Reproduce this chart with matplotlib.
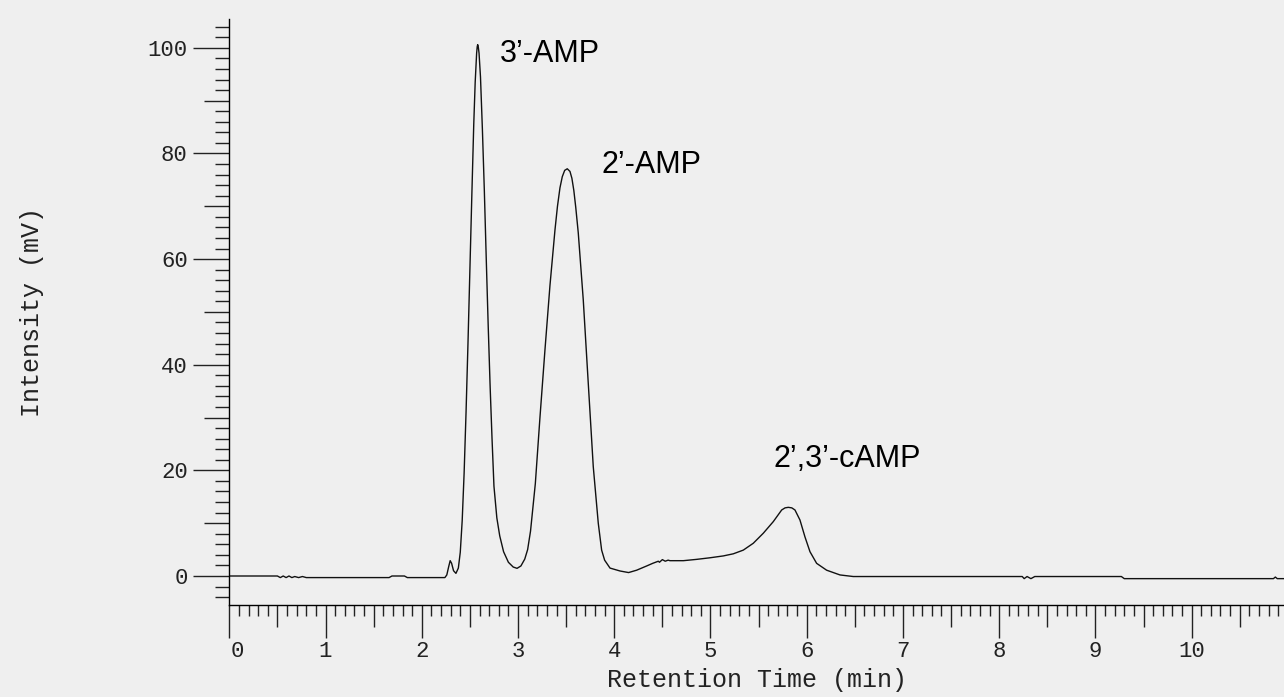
# Cromatograma: 3'-AMP, 2'-AMP y 2',3'-cAMP
import matplotlib.pyplot as plt
import matplotlib.transforms as mtransforms
from matplotlib.ticker import MultipleLocator, FuncFormatter

tiempo = [0.00, 0.50, 0.53, 0.56, 0.59, 0.62, 0.65, 0.68, 0.72, 0.76, 0.80, 0.84,
          1.66, 1.69, 1.82, 1.85, 2.24, 2.26, 2.28, 2.295, 2.31, 2.33, 2.355,
          2.38, 2.40, 2.42, 2.44, 2.46, 2.48, 2.50, 2.52, 2.54, 2.555, 2.57, 2.576,
          2.581, 2.587, 2.595, 2.61, 2.63, 2.65, 2.67, 2.69, 2.71, 2.73, 2.75, 2.78,
          2.81, 2.85, 2.90, 2.95, 2.99, 3.03, 3.07, 3.10, 3.13, 3.18, 3.228, 3.28,
          3.332, 3.384, 3.41, 3.436, 3.46, 3.485, 3.512, 3.54, 3.56, 3.58, 3.60,
          3.626, 3.678, 3.73, 3.782, 3.834, 3.869, 3.90, 3.956, 4.06, 4.149, 4.233,
          4.337, 4.40, 4.458, 4.47, 4.50, 4.53, 4.56, 4.579, 4.65, 4.718, 4.857,
          4.995, 5.133, 5.237, 5.341, 5.445, 5.549, 5.653, 5.74, 5.775, 5.809, 5.845,
          5.878, 5.93, 5.982, 6.034, 6.103, 6.207, 6.346, 6.484, 8.24, 8.26, 8.29,
          8.33, 8.37, 9.27, 9.30, 10.85, 10.87, 10.89, 10.96]
intensidad = [0.0, 0.0, -0.3, 0.0, -0.3, 0.0, -0.3, -0.1, -0.3, -0.1, -0.3, -0.3,
              -0.3, 0.0, 0.0, -0.3, -0.3, 0.2, 1.8, 2.9, 2.4, 1.0, 0.5,
              1.5, 4.5, 10.5, 19.5, 31.0, 44.0, 58.0, 72.0, 85.5, 93.5, 99.0, 100.2,
              100.6, 100.2, 99.0, 94.5, 84.5, 73.0, 60.0, 47.5, 36.0, 26.0, 17.0, 11.0,
              7.6, 4.6, 2.6, 1.7, 1.45, 1.9, 3.2, 5.0, 8.5, 17.5, 30.0, 42.8,
              55.0, 65.5, 70.0, 73.5, 75.6, 76.8, 77.1, 76.6, 75.3, 73.0, 69.8,
              65.0, 52.3, 36.5, 20.7, 10.0, 4.9, 3.0, 1.5, 0.95, 0.65, 1.1,
              1.9, 2.4, 2.8, 2.6, 3.1, 2.8, 3.0, 2.9, 2.9, 2.9, 3.15,
              3.45, 3.8, 4.2, 4.9, 6.2, 8.1, 10.3, 12.5, 12.9, 13.0, 12.9,
              12.5, 10.6, 7.4, 4.6, 2.4, 1.1, 0.2, -0.1, -0.1, -0.5, -0.1,
              -0.5, -0.1, -0.1, -0.5, -0.5, -0.2, -0.5, -0.5]

# etiquetas de picos: texto, tiempo, intensidad (linea base del texto)
picos = ["3\u2019-AMP", "2\u2019-AMP", "2\u2019,3\u2019-cAMP"]
pico_t = [2.81, 3.87, 5.65]
pico_y = [97.3, 76.3, 20.7]

fondo = "#efefef"
mono = "Liberation Mono"

fig = plt.figure(figsize=(12.84, 6.97), dpi=100, facecolor=fondo)
ax = fig.add_axes([0.1786, 0.132, 0.8214, 0.8403])
ax.set_facecolor(fondo)

ax.plot(tiempo, intensidad, color="#111111", linewidth=1.0)

for txt, t, y in zip(picos, pico_t, pico_y):
    ax.text(t, y, txt, fontsize=22, family="Liberation Sans", va="baseline", ha="left")

ax.set_xlim(0, 10.96)
ax.set_ylim(-5.49, 105.4)

ax.spines["top"].set_visible(False)
ax.spines["right"].set_visible(False)
ax.spines["left"].set_linewidth(1.0)
ax.spines["bottom"].set_linewidth(1.0)

# ticks: largo (enteros), medio (0.5), corto (0.1)
ax.xaxis.set_major_locator(MultipleLocator(0.5))
ax.xaxis.set_minor_locator(MultipleLocator(0.1))
ax.xaxis.set_major_formatter(FuncFormatter(lambda v, p: "%d" % round(v) if abs(v - round(v)) < 1e-6 else ""))
ax.yaxis.set_major_locator(MultipleLocator(10))
ax.yaxis.set_minor_locator(MultipleLocator(2))
ax.yaxis.set_major_formatter(FuncFormatter(lambda v, p: "%d" % round(v) if round(v) % 20 == 0 else ""))

ax.tick_params(axis="both", which="both", direction="out", width=1.0, color="#222222")
ax.tick_params(axis="x", which="major", length=24, pad=2, labelsize=16)
ax.tick_params(axis="x", which="minor", length=8)
ax.tick_params(axis="y", which="major", length=26, pad=4, labelsize=16)
ax.tick_params(axis="y", which="minor", length=10)

for lab in ax.get_xticklabels() + ax.get_yticklabels():
    lab.set_family(mono)
    lab.set_color("#222222")

fig.canvas.draw()
for tk in ax.xaxis.get_major_ticks():
    v = tk.get_loc()
    if abs(v - round(v)) > 1e-6:
        tk.tick1line.set_markersize(16)
    elif abs(v) < 1e-6:
        # el "0" del registro esta corrido a la derecha
        tk.label1.set_transform(tk.label1.get_transform()
                                + mtransforms.ScaledTranslation(8 / 100, 0, fig.dpi_scale_trans))
for tk in ax.yaxis.get_major_ticks():
    v = tk.get_loc()
    if round(v) % 20 != 0:
        tk.tick1line.set_markersize(18)

ax.set_xlabel("Retention Time (min)", family=mono, fontsize=18, color="#222222")
ax.set_ylabel("Intensity (mV)", family=mono, fontsize=18, color="#222222")
ax.xaxis.set_label_coords(0.5, -0.107)
ax.yaxis.set_label_coords(-0.176, 0.5)

plt.savefig("out.png", dpi=100, facecolor=fondo)
